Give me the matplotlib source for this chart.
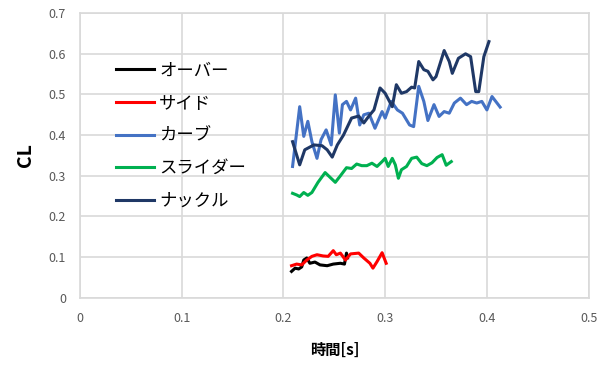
import matplotlib
matplotlib.use("Agg")
from matplotlib import pyplot as plt

plt.rcParams['font.family'] = ['Noto Sans CJK JP', 'DejaVu Sans']

# 時間[s] と CL の値（球種ごと）
t_over = [0.208, 0.2115, 0.215, 0.218, 0.220, 0.223, 0.226, 0.231, 0.236, 0.243,
          0.249, 0.256, 0.260, 0.262, 0.263]
cl_over = [0.065, 0.073, 0.071, 0.076, 0.093, 0.098, 0.085, 0.088, 0.081, 0.079,
           0.083, 0.085, 0.083, 0.110, 0.098]

t_side = [0.208, 0.213, 0.218, 0.223, 0.228, 0.233, 0.239, 0.244, 0.249, 0.252,
          0.256, 0.261, 0.266, 0.274, 0.279, 0.285, 0.288, 0.292, 0.297, 0.301]
cl_side = [0.079, 0.083, 0.081, 0.093, 0.102, 0.106, 0.103, 0.102, 0.116, 0.106,
           0.110, 0.093, 0.108, 0.110, 0.098, 0.085, 0.073, 0.089, 0.111, 0.085]

t_curve = [0.209, 0.216, 0.220, 0.224, 0.228, 0.233, 0.237, 0.242, 0.247, 0.251,
           0.255, 0.258, 0.262, 0.266, 0.271, 0.275, 0.279, 0.284, 0.290, 0.297,
           0.300, 0.306, 0.312, 0.317, 0.324, 0.328, 0.333, 0.338, 0.342, 0.348,
           0.353, 0.358, 0.363, 0.368, 0.374, 0.380, 0.385, 0.390, 0.395, 0.400,
           0.405, 0.413]
cl_curve = [0.323, 0.470, 0.397, 0.434, 0.384, 0.343, 0.389, 0.413, 0.376, 0.499,
            0.405, 0.475, 0.483, 0.462, 0.491, 0.425, 0.450, 0.454, 0.417, 0.458,
            0.442, 0.483, 0.462, 0.454, 0.425, 0.421, 0.520, 0.483, 0.436, 0.475,
            0.446, 0.458, 0.454, 0.479, 0.491, 0.475, 0.483, 0.479, 0.483, 0.462,
            0.495, 0.469]

t_slider = [0.209, 0.213, 0.216, 0.220, 0.224, 0.228, 0.234, 0.241, 0.246, 0.251,
            0.256, 0.262, 0.267, 0.272, 0.277, 0.282, 0.287, 0.292, 0.297, 0.300,
            0.303, 0.307, 0.310, 0.313, 0.316, 0.321, 0.326, 0.331, 0.336, 0.341,
            0.346, 0.351, 0.356, 0.360, 0.365]
cl_slider = [0.257, 0.253, 0.249, 0.259, 0.252, 0.259, 0.284, 0.308, 0.296, 0.284,
             0.300, 0.320, 0.318, 0.329, 0.325, 0.325, 0.331, 0.323, 0.335, 0.343,
             0.323, 0.343, 0.327, 0.294, 0.315, 0.323, 0.343, 0.346, 0.330, 0.325,
             0.332, 0.345, 0.352, 0.326, 0.335]

t_knuckle = [0.209, 0.216, 0.221, 0.230, 0.238, 0.243, 0.248, 0.253, 0.259, 0.267,
             0.274, 0.279, 0.285, 0.289, 0.295, 0.300, 0.307, 0.311, 0.316, 0.321,
             0.326, 0.329, 0.333, 0.338, 0.342, 0.347, 0.350, 0.358, 0.363, 0.366,
             0.372, 0.379, 0.384, 0.389, 0.392, 0.397, 0.402]
cl_knuckle = [0.384, 0.327, 0.364, 0.376, 0.374, 0.364, 0.346, 0.376, 0.400, 0.442,
              0.447, 0.430, 0.450, 0.462, 0.516, 0.503, 0.470, 0.524, 0.503, 0.507,
              0.518, 0.516, 0.581, 0.561, 0.557, 0.536, 0.544, 0.608, 0.581, 0.552,
              0.589, 0.600, 0.593, 0.507, 0.507, 0.593, 0.630]

series = [
    ('オーバー', t_over, cl_over, '#000000'),
    ('サイド', t_side, cl_side, '#FF0000'),
    ('カーブ', t_curve, cl_curve, '#4472C4'),
    ('スライダー', t_slider, cl_slider, '#00B050'),
    ('ナックル', t_knuckle, cl_knuckle, '#1F3866'),
]

fig = plt.figure(figsize=(6.1, 3.65), dpi=100)
ax = fig.add_axes([0.131, 0.184, 0.834, 0.780])

for name, t, cl, c in series:
    ax.plot(t, cl, color=c, lw=2.2, label=name, solid_joinstyle='round')

ax.set_xlim(0, 0.5)
ax.set_ylim(0, 0.7)
ax.set_xticks([0, 0.1, 0.2, 0.3, 0.4, 0.5])
ax.set_xticklabels(['0', '0.1', '0.2', '0.3', '0.4', '0.5'])
ax.set_yticks([0, 0.1, 0.2, 0.3, 0.4, 0.5, 0.6, 0.7])
ax.set_yticklabels(['0', '0.1', '0.2', '0.3', '0.4', '0.5', '0.6', '0.7'])
ax.grid(True, color='#D9D9D9', lw=1.2)
ax.set_axisbelow(True)
for s in ax.spines.values():
    s.set_color('#D9D9D9')
    s.set_linewidth(1.2)
ax.tick_params(length=0, colors='#595959', labelsize=9, pad=10)

ax.set_xlabel('時間[s]', fontsize=11, fontweight='bold', labelpad=12)
ax.set_ylabel('CL', fontsize=14, fontweight='bold', labelpad=10)

ax.legend(loc='upper left', bbox_to_anchor=(0.04, 0.885), frameon=False,
          fontsize=12.5, handlelength=2.2, handletextpad=0.3, labelspacing=0.84)

fig.savefig('out.png', dpi=100)
